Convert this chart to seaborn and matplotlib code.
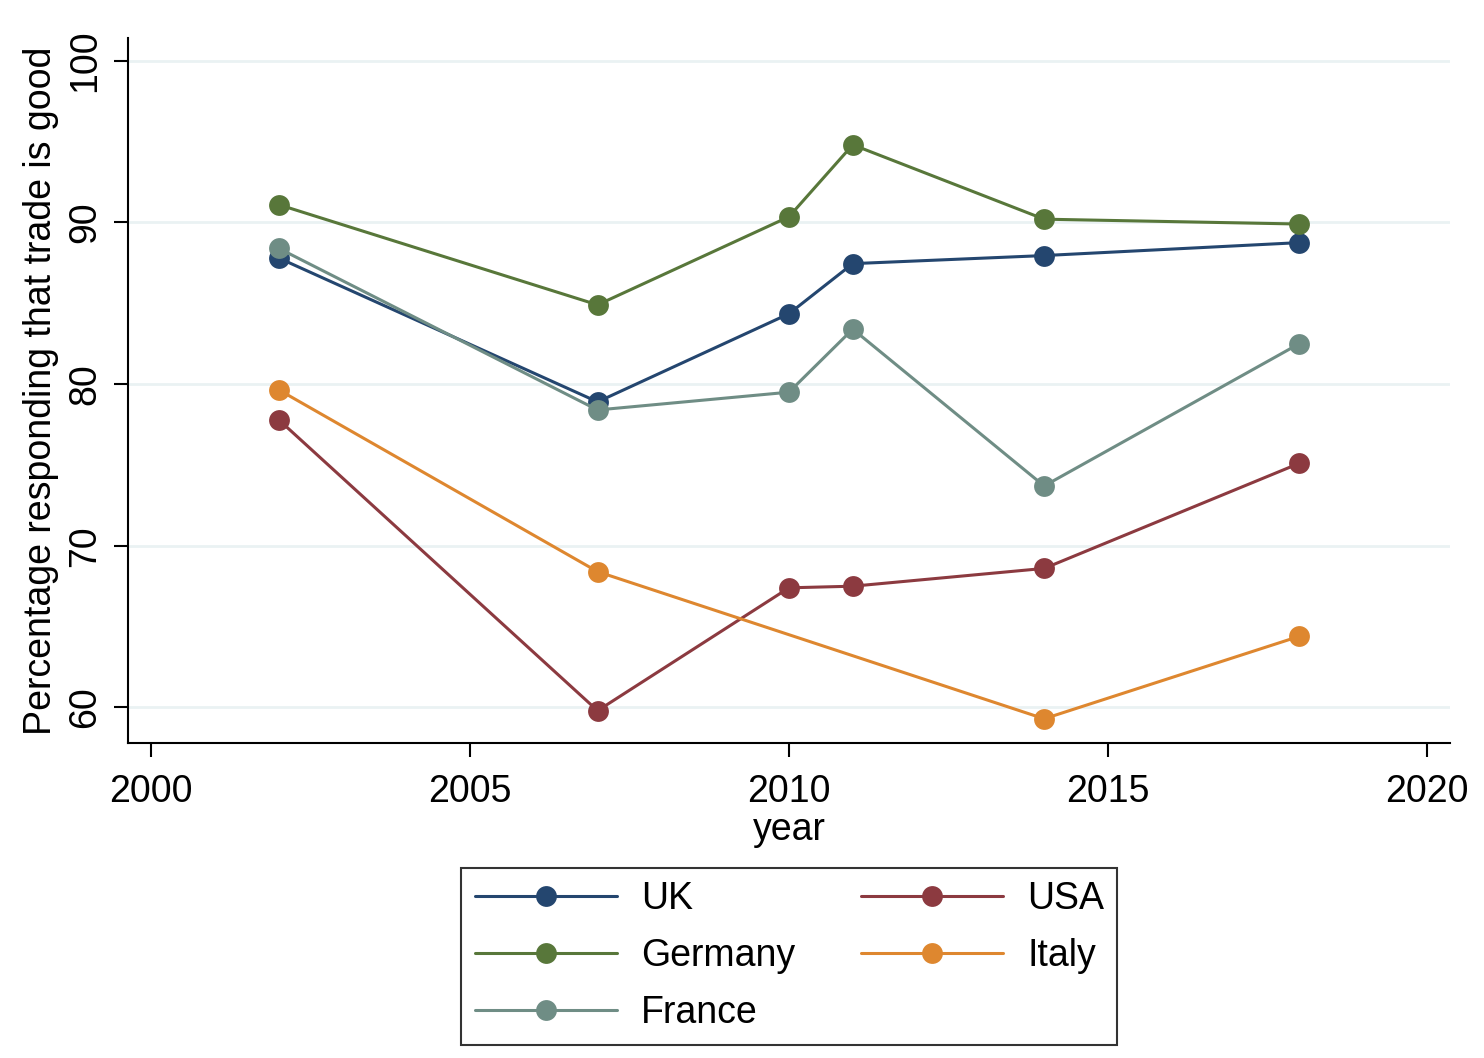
import matplotlib
matplotlib.use("Agg")
import matplotlib.pyplot as plt
import seaborn as sns
import pandas as pd
from matplotlib.lines import Line2D

years = [2002, 2007, 2010, 2011, 2014, 2018]
uk = [87.8, 78.9, 84.35, 87.45, 87.95, 88.75]
germany = [91.1, 84.9, 90.35, 94.8, 90.2, 89.9]
france = [88.4, 78.4, 79.5, 83.4, 73.7, 82.5]
usa = [77.8, 59.8, 67.4, 67.5, 68.6, 75.1]
italy_years = [2002, 2007, 2014, 2018]
italy = [79.65, 68.4, 59.3, 64.4]

countries = ["UK", "Germany", "France", "USA", "Italy"]
colors = ["#24466f", "#58773a", "#6f8d85", "#8c3a40", "#de872f"]

rows = []
for name, vals in [("UK", uk), ("Germany", germany), ("France", france), ("USA", usa)]:
    for yr, v in zip(years, vals):
        rows.append((name, yr, v))
for yr, v in zip(italy_years, italy):
    rows.append(("Italy", yr, v))
df = pd.DataFrame(rows, columns=["country", "year", "pct"])

sns.set_style("white")
plt.rcParams["font.family"] = ["Liberation Sans", "DejaVu Sans"]
plt.rcParams["text.color"] = "black"
plt.rcParams["axes.labelcolor"] = "black"
plt.rcParams["xtick.color"] = "black"
plt.rcParams["ytick.color"] = "black"

fig = plt.figure(figsize=(14.84, 10.58), dpi=100)
ax = fig.add_axes([0.0863, 0.2977, 0.977 - 0.0863, 0.964 - 0.2977])

for y in [60, 70, 80, 90, 100]:
    ax.axhline(y, color="#eaf2f3", lw=2, zorder=0)

sns.lineplot(data=df, x="year", y="pct", hue="country", hue_order=countries,
             palette=dict(zip(countries, colors)), marker="o", markersize=15,
             markeredgewidth=0, linewidth=2.2, ax=ax, legend=False, estimator=None,
             sort=True)

ax.set_xlim(1999.64, 2020.36)
ax.set_ylim(57.8, 101.4)
ax.set_xticks([2000, 2005, 2010, 2015, 2020])
ax.set_yticks([60, 70, 80, 90, 100])
ax.set_yticklabels(["60", "70", "80", "90", "100"], rotation=90, va="center")
ax.tick_params(axis="both", labelsize=27, length=10, width=1.5, colors="black",
               direction="out", bottom=True, left=True)
ax.tick_params(axis="x", pad=12)
ax.tick_params(axis="y", pad=8)
ax.set_xlabel("year", fontsize=27, labelpad=2)
ax.set_ylabel("Percentage responding that trade is good", fontsize=27, labelpad=6)
for s in ["top", "right"]:
    ax.spines[s].set_visible(False)
for s in ["left", "bottom"]:
    ax.spines[s].set_color("black")
    ax.spines[s].set_linewidth(1.5)

handles = [Line2D([], [], color=c, marker="o", markersize=15, markeredgewidth=0, lw=2.2)
           for c in colors]
leg = fig.legend(handles, countries, loc="center", bbox_to_anchor=(0.532, 0.096),
                 ncol=2, fontsize=27, frameon=True, fancybox=False, handlelength=3.8,
                 handletextpad=0.64, columnspacing=1.75, borderpad=0.35,
                 labelspacing=0.56, borderaxespad=0)
leg.get_frame().set_edgecolor("black")
leg.get_frame().set_linewidth(1.5)

fig.savefig("out.png", dpi=100, facecolor="white")
